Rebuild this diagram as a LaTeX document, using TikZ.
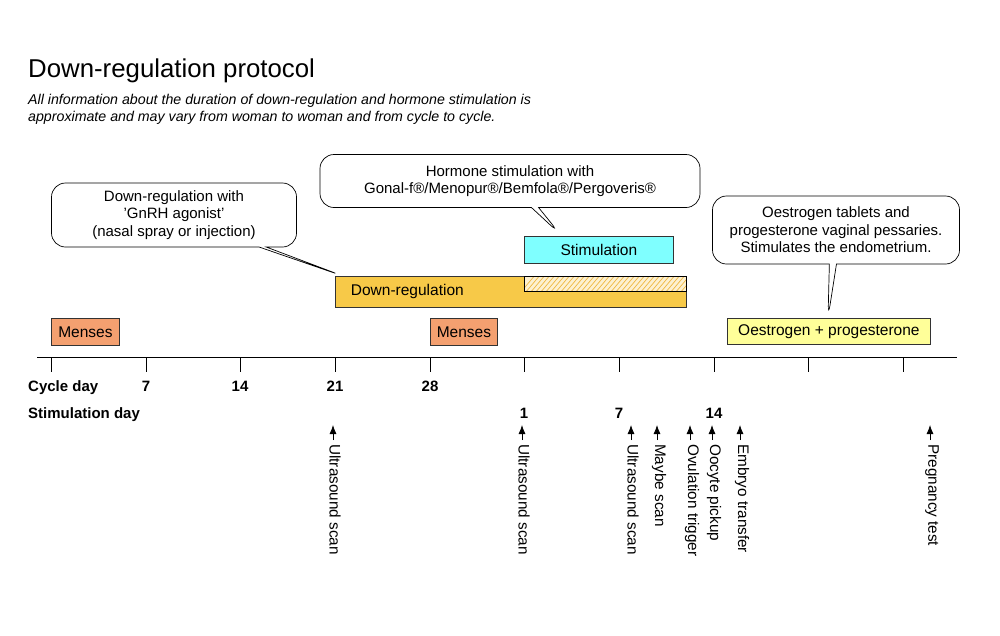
\documentclass[tikz,border=0pt]{standalone}
\usepackage{fontspec}
\setmainfont{Liberation Sans}
\usetikzlibrary{shapes.callouts,arrows.meta}
\definecolor{menses}{HTML}{F4A070}
\definecolor{down}{HTML}{F7C948}
\definecolor{stim}{HTML}{7FFFFF}
\definecolor{oest}{HTML}{FFFF99}
\definecolor{hatch}{HTML}{F0B840}
\begin{document}
\begin{tikzpicture}[x=1pt,y=-1pt,
  lbl/.style={font=\fontsize{15.5}{18}\selectfont},
  bar/.style={draw=black!80,line width=0.8pt,lbl,inner sep=0},
  co/.style={rectangle callout,rounded corners=14pt,draw,fill=white,line width=0.7pt,align=center,font=\fontsize{15}{17.5}\selectfont,inner sep=2pt},
  bold/.style={font=\bfseries\fontsize{15}{17}\selectfont},
  ev/.style={rotate=-90,anchor=west,font=\fontsize{15.3}{17}\selectfont,inner sep=0},
  up/.style={-{Latex[length=9pt,width=7pt]},line width=0.8pt}]
\useasboundingbox (0,0) rectangle (1000,635);
\node[anchor=base west,font=\fontsize{25.8}{30}\selectfont,inner sep=0] (title) at (28,77) {Down-regulation protocol};
\node[anchor=north west,align=left,font=\itshape\fontsize{14.2}{17}\selectfont,inner sep=0] (info) at (28,94)
 {All information about the duration of down-regulation and hormone stimulation is\\approximate and may vary from woman to woman and from cycle to cycle.};
% bars
\node[bar,fill=down,minimum width=351,minimum height=31,anchor=north west,text width=340,align=left] (dr) at (335,276) {\hspace*{10pt}\raisebox{-8pt}{Down-regulation}};
\fill[down!25!white] (524,276) rectangle (686,291);
\begin{scope}
\clip (524,276) rectangle (686,291);
\foreach \i in {0,5,...,180}{\draw[hatch,line width=0.7pt] (520+\i,293) -- (536+\i,274);}
\end{scope}
\draw[line width=0.8pt] (524,276) rectangle (686,291);
\node[bar,fill=stim,minimum width=149,minimum height=27,anchor=north west] (st) at (524,236) {Stimulation};
\node[bar,fill=menses,minimum width=68,minimum height=27,anchor=north west] (m1) at (51,318) {Menses};
\node[bar,fill=menses,minimum width=67,minimum height=27,anchor=north west] (m2) at (430,318) {Menses};
\node[bar,fill=oest,minimum width=203,minimum height=26,anchor=north west] (oe) at (727,318) {Oestrogen + progesterone};
% callouts
\coordinate (p1) at (343,276);
\coordinate (p2) at (560,234);
\coordinate (p3) at (828,318);
\node[co,minimum width=245,minimum height=64,callout absolute pointer=(p1)] (c1) at (174,215) {Down-regulation with\\'GnRH agonist'\\(nasal spray or injection)};
\node[co,minimum width=380,minimum height=53,callout absolute pointer=(p2)] (c2) at (510,181) {Hormone stimulation with\\Gonal-f®/Menopur®/Bemfola®/Pergoveris®};
\node[co,minimum width=247,minimum height=68,callout absolute pointer=(p3)] (c3) at (836,230) {Oestrogen tablets and\\progesterone vaginal pessaries.\\Stimulates the endometrium.};
% axis
\coordinate (a0) at (37,357); \coordinate (a1) at (957,357);
\draw[line width=0.8pt] (a0) -- (a1);
\foreach \x in {51,146,240,335,430,524,619,714,808,903}{\draw[line width=0.8pt] (\x,357) -- (\x,372);}
\node[bold,anchor=base west,inner sep=0] (cd) at (28,391) {Cycle day};
\foreach \x/\t in {146/7,240/14,335/21,430/28}{\node[bold,anchor=base,inner sep=0] at (\x,391) {\t};}
\node[bold,anchor=base west,inner sep=0] (sd) at (28,418) {Stimulation day};
\foreach \x/\t in {524/1,619/7,714/14}{\node[bold,anchor=base,inner sep=0] at (\x,418) {\t};}
% events
\foreach \x/\t/\n in {333/Ultrasound scan/e1,522/Ultrasound scan/e2,631/Ultrasound scan/e3,657/Maybe scan/e4,690/Ovulation trigger/e5,712/Oocyte pickup/e6,740/Embryo transfer/e7,930/Pregnancy test/e8}{
  \node[ev] (\n) at (\x+2,444) {\t};
  \coordinate (\n t) at (\x,425);
  \coordinate (\n b) at (\x,440);
  \draw[up] (\n b) -- (\n t);
}
\end{tikzpicture}
\end{document}
